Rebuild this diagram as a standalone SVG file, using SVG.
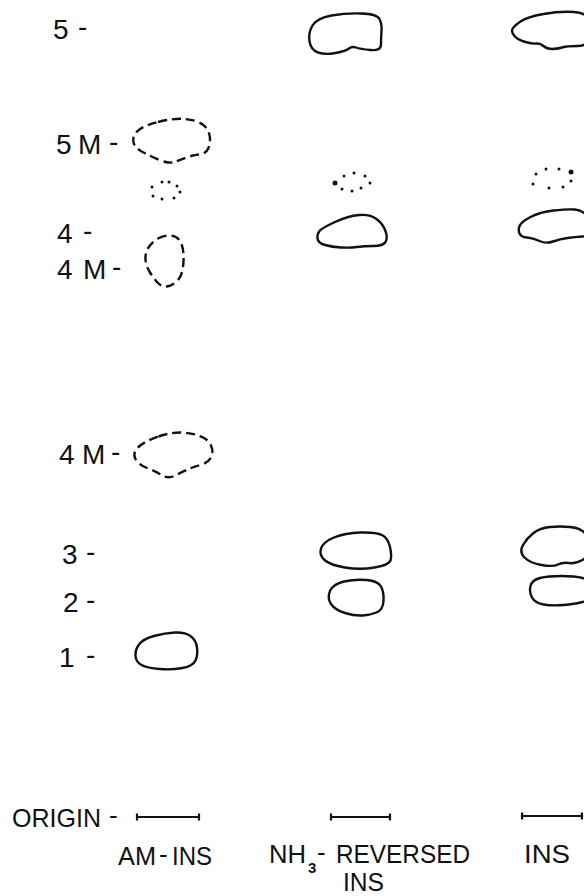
<svg xmlns="http://www.w3.org/2000/svg" width="584" height="896" viewBox="0 0 584 896">
<style>
text{font-family:"Liberation Sans",Arial,sans-serif;font-size:28px;fill:#111}
.b{font-size:26px}
.sub{font-size:15px;font-weight:bold}
.spot{fill:none;stroke:#111;stroke-width:2.4;stroke-linejoin:round}
.dash{fill:none;stroke:#111;stroke-width:2.4;stroke-dasharray:9 5;stroke-linecap:butt}
.dot{fill:#111}
.bar{stroke:#111;stroke-width:2.2;fill:none}
</style>
<rect width="584" height="896" fill="#fff"/>
<g id="labels">
<g id="lbl-5"><text x="53" y="39">5</text><text x="78" y="36">-</text></g>
<g id="lbl-5M"><text x="56" y="154">5</text><text x="78" y="154">M</text><text x="109" y="151">-</text></g>
<g id="lbl-4"><text x="57" y="243">4</text><text x="83" y="240">-</text></g>
<g id="lbl-4M-a"><text x="57" y="279">4</text><text x="83" y="279">M</text><text x="112" y="276">-</text></g>
<g id="lbl-4M-b"><text x="59" y="464">4</text><text x="82" y="464">M</text><text x="111" y="461">-</text></g>
<g id="lbl-3"><text x="62" y="564">3</text><text x="86" y="561">-</text></g>
<g id="lbl-2"><text x="63" y="612">2</text><text x="86" y="609">-</text></g>
<g id="lbl-1"><text x="59" y="667">1</text><text x="86" y="664">-</text></g>
<g id="lbl-origin"><text class="b" x="12" y="827" textLength="89" lengthAdjust="spacingAndGlyphs">ORIGIN</text><text class="b" x="109" y="824">-</text></g>
<g id="lbl-am-ins"><text class="b" x="118" y="865" textLength="38" lengthAdjust="spacingAndGlyphs">AM</text><text class="b" x="159" y="863">-</text><text class="b" x="172" y="865" textLength="40" lengthAdjust="spacingAndGlyphs">INS</text></g>
<g id="lbl-nh3"><text class="b" x="269" y="863" textLength="37" lengthAdjust="spacingAndGlyphs">NH</text><text class="sub" x="308" y="873">3</text><text class="b" x="317" y="861">-</text><text class="b" x="336" y="863" textLength="134" lengthAdjust="spacingAndGlyphs">REVERSED</text><text class="b" x="343" y="891" textLength="41" lengthAdjust="spacingAndGlyphs">INS</text></g>
<g id="lbl-ins"><text class="b" x="524" y="863" textLength="46" lengthAdjust="spacingAndGlyphs">INS</text></g>
</g>
<g id="lane1">
<g id="spot-5M-am"><path class="dash" d="M158,122 Q174,118 185,119 Q196,120 202,124 Q208,128 209.5,135 Q211,142 208.5,148 Q206,154 199.5,154.5 Q193,155 186.5,157.5 Q180,160 174.5,162 Q169,164 159.5,160 Q150,156 142.5,152 Q135,148 133.5,142.5 Q132,137 137,131.5 Q142,126 158,122 Z"/></g>
<g id="spot-dots-am"><circle class="dot" cx="152" cy="187" r="1.5"/><circle class="dot" cx="162" cy="182" r="1.5"/><circle class="dot" cx="169" cy="182" r="1.5"/><circle class="dot" cx="177" cy="186" r="1.5"/><circle class="dot" cx="180" cy="192" r="1.5"/><circle class="dot" cx="174" cy="198" r="1.5"/><circle class="dot" cx="162" cy="199" r="1.5"/><circle class="dot" cx="153" cy="196" r="1.5"/></g>
<g id="spot-4M-am-a"><path class="dash" d="M158,238.5 Q164,235 170.5,235.5 Q177,236 180,241 Q183,246 183.5,254 Q184,262 182.5,270 Q181,278 176,282 Q171,286 166.5,286.5 Q162,287 158,283 Q154,279 150,272.5 Q146,266 145.5,259.5 Q145,253 148.5,247.5 Q152,242 158,238.5 Z"/></g>
<g id="spot-4M-am-b"><path class="dash" d="M158.5,436.5 Q172,432 182,432.5 Q192,433 200,436 Q208,439 211,445.5 Q214,452 211,457.5 Q208,463 200.5,465 Q193,467 186.5,470 Q180,473 174,476 Q168,479 161.5,475 Q155,471 147,468 Q139,465 135.5,459 Q132,453 138.5,447 Q145,441 158.5,436.5 Z"/></g>
<g id="spot-1-am"><path class="spot" d="M154,636 Q165,633 175,632.5 Q185,632 190.5,636 Q196,640 197,647.5 Q198,655 195.5,660.5 Q193,666 182.5,668 Q172,670 159.5,669 Q147,668 141.5,665 Q136,662 135.5,656 Q135,650 139,644.5 Q143,639 154,636 Z"/></g>
</g>
<g id="lane2">
<g id="spot-5-nh3"><path class="spot" d="M331.5,15.5 Q346,13 361.5,13.5 Q377,14 379.5,19 Q382,24 381.5,31 Q381,38 381,44.5 Q381,51 370.5,50 Q360,49 356,47.5 Q352,46 349,48.5 Q346,51 335.5,53 Q325,55 318,52.5 Q311,50 309.5,41.5 Q308,33 312.5,25.5 Q317,18 331.5,15.5 Z"/></g>
<g id="spot-dots-nh3"><circle class="dot" cx="335" cy="183" r="2.5"/><circle class="dot" cx="344" cy="176" r="1.5"/><circle class="dot" cx="354" cy="173" r="1.5"/><circle class="dot" cx="365" cy="176" r="1.5"/><circle class="dot" cx="370" cy="183" r="1.5"/><circle class="dot" cx="361" cy="188" r="1.5"/><circle class="dot" cx="352" cy="191" r="1.5"/><circle class="dot" cx="342" cy="189" r="1.5"/></g>
<g id="spot-4-nh3"><path class="spot" d="M335,222 Q348,216 359,215 Q370,214 376.5,219 Q383,224 385.5,231 Q388,238 385.5,242 Q383,246 373.5,246 Q364,246 357,247 Q350,248 341,247.5 Q332,247 325,245 Q318,243 317.5,238.5 Q317,234 319.5,231 Q322,228 335,222 Z"/></g>
<g id="spot-3-nh3"><path class="spot" d="M334,537.5 Q345,533 360.5,532.5 Q376,532 382,535 Q388,538 390,547 Q392,556 390.5,560.5 Q389,565 374.5,567.5 Q360,570 345,567.5 Q330,565 324.5,560 Q319,555 321,548.5 Q323,542 334,537.5 Z"/></g>
<g id="spot-2-nh3"><path class="spot" d="M344,581.5 Q355,579 366.5,580 Q378,581 381,586.5 Q384,592 383.5,601 Q383,610 376.5,612.5 Q370,615 362.5,615.5 Q355,616 345,613 Q335,610 331,604 Q327,598 330,591 Q333,584 344,581.5 Z"/></g>
</g>
<g id="lane3">
<g id="spot-5-ins"><path class="spot" d="M520.5,21.5 Q527,17 543.5,14 Q560,11 574,12 Q588,13 590,21.5 Q592,30 590,38 Q588,46 577.5,46 Q567,46 562,47.5 Q557,49 552,49 Q547,49 543.5,46 Q540,43 536.5,43.5 Q533,44 525.5,42 Q518,40 514.5,36 Q511,32 512.5,29 Q514,26 520.5,21.5 Z"/></g>
<g id="spot-dots-ins"><circle class="dot" cx="533" cy="184" r="1.5"/><circle class="dot" cx="536" cy="174" r="1.5"/><circle class="dot" cx="546" cy="169" r="1.5"/><circle class="dot" cx="559" cy="169" r="1.5"/><circle class="dot" cx="571" cy="172" r="2.5"/><circle class="dot" cx="571" cy="181" r="1.5"/><circle class="dot" cx="563" cy="187" r="1.5"/><circle class="dot" cx="549" cy="188" r="1.5"/></g>
<g id="spot-4-ins"><path class="spot" d="M530.5,217 Q540,212 553.5,210.5 Q567,209 574.5,209.5 Q582,210 586,215 Q590,220 590,228 Q590,236 582.5,236.5 Q575,237 567.5,238 Q560,239 553,241.5 Q546,244 539.5,241 Q533,238 527,237.5 Q521,237 519.5,233.5 Q518,230 519.5,226 Q521,222 530.5,217 Z"/></g>
<g id="spot-3-ins"><path class="spot" d="M533.5,533 Q540,528 550,527 Q560,526 570,527 Q580,528 585,533 Q590,538 590,547 Q590,556 582.5,560 Q575,564 569,563 Q563,562 558,564.5 Q553,567 541.5,565 Q530,563 524.5,557.5 Q519,552 523,545 Q527,538 533.5,533 Z"/></g>
<g id="spot-2-ins"><path class="spot" d="M540,578 Q548,576 561.5,576 Q575,576 582.5,578 Q590,580 590,590 Q590,600 582.5,602 Q575,604 563.5,605 Q552,606 543.5,604.5 Q535,603 532,597.5 Q529,592 530.5,586 Q532,580 540,578 Z"/></g>
</g>
<g id="origin-bars">
<path class="bar" d="M137,817 H199 M137,813.5 V820.5 M199,813.5 V820.5"/>
<path class="bar" d="M331,817 H390 M331,813.5 V820.5 M390,813.5 V820.5"/>
<path class="bar" d="M522,816 H582 M522,812.5 V819.5 M582,812.5 V819.5"/>
</g>
</svg>
